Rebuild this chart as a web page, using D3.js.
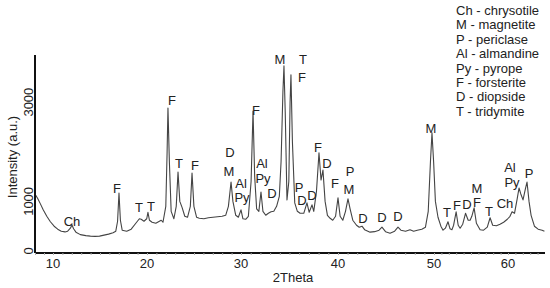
<!DOCTYPE html>
<html>
<head>
<meta charset="utf-8">
<script src="https://cdn.jsdelivr.net/npm/d3@7"></script>
<style>
  body { margin: 0; background: #fff; }
  text { font-family: "Liberation Sans", Arial, sans-serif; fill: #222; }
</style>
</head>
<body>
<div id="chart"></div>
<script>
// Diffraction pattern: 2theta (deg) and intensity (a.u.)
const twoTheta = [
  8.0, 8.3, 8.6, 8.91, 9.31, 9.71, 10.12, 10.5, 10.88, 11.28, 11.56, 11.85, 12.02, 12.19, 12.44, 12.91,
  13.49, 13.98, 14.46, 14.95, 15.43, 15.91, 16.39, 16.68, 16.87, 17.02, 17.17, 17.36, 17.84, 18.32, 18.81, 19.19,
  19.38, 19.68, 19.97, 20.1, 20.26, 20.54, 20.94, 21.32, 21.51, 21.7, 22.0, 22.14, 22.23, 22.38, 22.57, 22.86,
  23.11, 23.3, 23.49, 23.73, 24.02, 24.31, 24.61, 24.79, 24.99, 25.28, 25.56, 26.05, 26.53, 27.02, 27.5, 27.99,
  28.37, 28.66, 28.94, 29.14, 29.44, 29.72, 30.0, 30.2, 30.48, 30.76, 31.04, 31.24, 31.41, 31.61, 31.84, 32.06,
  32.26, 32.55, 32.82, 33.1, 33.38, 33.67, 33.95, 34.13, 34.32, 34.43, 34.56, 34.74, 34.93, 35.06, 35.15, 35.3,
  35.54, 35.81, 36.09, 36.47, 36.8, 37.03, 37.32, 37.5, 37.78, 38.04, 38.25, 38.45, 38.67, 38.91, 39.19, 39.46,
  39.75, 40.0, 40.22, 40.5, 40.78, 41.04, 41.26, 41.54, 41.93, 42.21, 42.5, 42.77, 43.34, 43.81, 44.28, 44.58,
  44.95, 45.42, 45.9, 46.25, 46.55, 47.03, 47.5, 47.88, 48.26, 48.73, 49.11, 49.4, 49.63, 49.79, 49.96, 50.19,
  50.54, 50.93, 51.22, 51.54, 51.89, 52.16, 52.43, 52.65, 52.99, 53.27, 53.53, 53.88, 54.26, 54.62, 54.88, 55.11,
  55.42, 55.73, 56.23, 56.7, 57.2, 57.58, 57.93, 58.43, 58.92, 59.41, 59.91, 60.27, 60.55, 60.88, 61.24, 61.49,
  61.73, 62.03, 62.35, 62.57, 62.84, 63.12, 63.57, 64.07, 64.61, 64.92
];
const intensity = [
  1150, 1060, 950, 830, 700, 590, 500, 440, 400, 385, 400, 460, 525, 450, 380, 330,
  310, 300, 295, 300, 320, 340, 370, 400, 600, 1170, 620, 420, 400, 440, 560, 650,
  640, 600, 650, 780, 620, 580, 560, 600, 620, 580, 900, 2000, 2880, 1800, 800, 650,
  900, 1590, 1000, 880, 700, 680, 900, 1570, 900, 680, 660, 650, 670, 680, 690, 700,
  720, 900, 1390, 1000, 720, 680, 830, 650, 640, 700, 1400, 2820, 1500, 850, 800, 1190,
  800, 720, 760, 790, 800, 900, 1100, 1800, 3200, 3730, 2800, 1030, 1400, 3000, 3550, 2200,
  970, 800, 760, 760, 970, 780, 930, 800, 1200, 1980, 1430, 1630, 1000, 720, 660, 620,
  700, 1070, 700, 620, 800, 1050, 850, 620, 520, 480, 500, 430, 380, 390, 420, 480,
  390, 360, 400, 480, 420, 400, 430, 400, 420, 440, 480, 800, 1800, 2380, 1800, 1000,
  680, 500, 420, 460, 590, 450, 430, 520, 790, 520, 460, 540, 760, 620, 620, 700,
  870, 560, 430, 420, 480, 670, 520, 510, 540, 580, 640, 700, 790, 760, 1050, 1270,
  1150, 1030, 1250, 1390, 1000, 720, 500, 440, 420, 400
];

// Phase labels: text, 2theta, intensity of the label baseline
const peakNames = ["Ch", "F", "T", "T", "F", "T", "F", "D", "M", "Al", "Py", "F", "Al", "Py", "D",
  "M", "T", "F", "P", "D", "D", "F", "D", "F", "P", "M", "D", "D", "D", "M", "T", "F", "D", "M",
  "F", "T", "Ch", "Al", "Py", "P"];
const peakTheta = [12.02, 16.81, 19.15, 20.43, 22.66, 23.4, 25.11, 28.83, 28.72, 30.0, 30.1, 31.55,
  32.16, 32.27, 33.2, 34.02, 36.39, 36.29, 35.98, 36.29, 37.32, 37.94, 38.87, 39.69, 41.25, 41.15,
  42.6, 44.58, 46.25, 49.69, 51.76, 53.11, 54.46, 55.81, 55.81, 57.43, 59.59, 60.27, 60.54, 62.84];
const peakLevel = [504, 1170, 787, 807, 2944, 1674, 1633, 1895, 1512, 1270, 988, 2742,
  1674, 1371, 1069, 3770, 3770, 3407, 1190, 928, 1029, 1996, 1674, 1270, 1512, 1150,
  565, 585, 605, 2379, 686, 827, 847, 1170, 887, 706, 867, 1593, 1291, 1472];

const legendItems = ["Ch - chrysotile", "M - magnetite", "P - periclase", "Al - almandine",
  "Py - pyrope", "F - forsterite", "D - diopside", "T - tridymite"];

const xTicks = [10, 20, 30, 40, 50, 60];
const yTicks = [0, 1000, 3000];

function drawPattern() {
  const W = 550, H = 288;

  const svg = d3.select("#chart")
    .append("svg")
    .attr("width", W)
    .attr("height", H);

  // Scales (the printed 2theta axis is not evenly spaced, so map it piecewise)
  const x = d3.scaleLinear()
    .domain([8, 10, 20, 30, 40, 50, 60, 65])
    .range([35, 53, 147, 241, 338, 434, 508, 545]);
  const y = d3.scaleLinear().domain([-40, 3950]).range([253, 55]);

  const points = twoTheta.map((t, i) => ({ t, v: intensity[i] }));

  // Pattern
  const line = d3.line()
    .x(d => x(d.t))
    .y(d => y(d.v));

  svg.append("path")
    .datum(points)
    .attr("fill", "none")
    .attr("stroke", "#444")
    .attr("stroke-width", 1.1)
    .attr("stroke-linejoin", "round")
    .attr("d", line);

  // X axis
  const x0 = x(8), x1 = x(65);
  const xAxis = svg.append("g")
    .attr("transform", `translate(0,${y(-40)})`)
    .call(d3.axisBottom(x)
      .tickValues(d3.range(8, 65, 1))
      .tickSize(2)
      .tickFormat(""));
  xAxis.select(".domain").attr("stroke", "#111").attr("stroke-width", 2).attr("d", `M${x0},0H${x1}`);
  xAxis.selectAll(".tick line").attr("stroke", "#aaa");

  svg.selectAll(".xlab")
    .data(xTicks)
    .join("text")
    .attr("x", d => x(d))
    .attr("y", 268)
    .attr("text-anchor", "middle")
    .style("font-size", "13px")
    .text(d => d);

  // Y axis
  const yAxis = svg.append("g")
    .attr("transform", `translate(${x0},0)`)
    .call(d3.axisLeft(y).tickValues([]).tickSizeOuter(0));
  yAxis.select(".domain").attr("stroke", "#111").attr("stroke-width", 2).attr("d", `M0,${y(-40)}V${y(3950)}`);

  svg.selectAll(".ylab")
    .data(yTicks)
    .join("text")
    .attr("transform", d => `translate(33,${y(d)}) rotate(-90)`)
    .attr("text-anchor", "middle")
    .style("font-size", "13px")
    .text(d => d);

  // Axis titles
  svg.append("text")
    .attr("x", 293)
    .attr("y", 282)
    .attr("text-anchor", "middle")
    .style("font-size", "13px")
    .text("2Theta");

  svg.append("text")
    .attr("transform", "translate(17,157) rotate(-90)")
    .attr("text-anchor", "middle")
    .style("font-size", "13px")
    .text("Intensity (a.u.)");

  // Peak labels
  svg.selectAll(".peak")
    .data(peakNames)
    .join("text")
    .attr("x", (d, i) => x(peakTheta[i]))
    .attr("y", (d, i) => y(peakLevel[i]))
    .attr("text-anchor", "middle")
    .style("font-size", "13px")
    .text(d => d);

  // Legend
  svg.selectAll(".legend")
    .data(legendItems)
    .join("text")
    .attr("x", 456)
    .attr("y", (d, i) => 15 + i * 14.4)
    .style("font-size", "13px")
    .text(d => d);
}

drawPattern();
</script>
</body>
</html>
